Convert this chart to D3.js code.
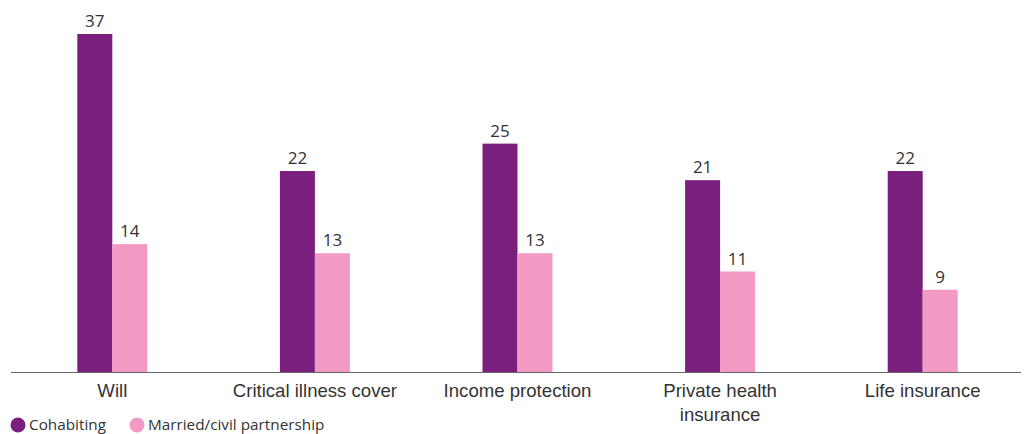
<!DOCTYPE html>
<html>
<head>
<meta charset="utf-8">
<script src="https://cdn.jsdelivr.net/npm/d3@7"></script>
<style>
  html, body { margin: 0; padding: 0; background: #fff; }
  svg { display: block; font-family: "Open Sans", "Noto Sans", sans-serif; }
</style>
</head>
<body>
<svg id="chart" width="1027" height="434"></svg>
<script>
const categories = ["Will", "Critical illness cover", "Income protection", "Private health\ninsurance", "Life insurance"];
const seriesNames = ["Cohabiting", "Married/civil partnership"];
const cohabiting = [37, 22, 25, 21, 22];
const married = [14, 13, 13, 11, 9];
const colors = ["#7b1f7f", "#f29ac4"];

const svg = d3.select("#chart");
const baseline = 372;

const x = d3.scaleBand().domain(categories).range([11, 1024]).paddingInner(0).paddingOuter(0);
const y = d3.scaleLinear().domain([0, 37]).range([baseline, 34]);
const barW = 35;

const rows = categories.map((c, i) => ({ cat: c, vals: [cohabiting[i], married[i]] }));

const groups = svg.selectAll("g.grp").data(rows).join("g")
  .attr("class", "grp")
  .attr("transform", d => `translate(${x(d.cat) + x.bandwidth() / 2},0)`);

groups.selectAll("rect").data(d => d.vals).join("rect")
  .attr("x", (d, j) => j === 0 ? -barW : 0)
  .attr("y", d => y(d))
  .attr("width", barW)
  .attr("height", d => baseline - y(d))
  .attr("fill", (d, j) => colors[j]);

groups.selectAll("text.val").data(d => d.vals).join("text")
  .attr("class", "val")
  .attr("x", (d, j) => j === 0 ? -barW / 2 : barW / 2)
  .attr("y", d => y(d) - 7)
  .attr("text-anchor", "middle")
  .attr("font-size", 17)
  .attr("fill", "#333")
  .text(d => d);

// category axis
const axis = svg.append("g").attr("transform", `translate(0,${baseline})`)
  .call(d3.axisBottom(x).tickSize(0).tickPadding(0));
axis.select(".domain").attr("stroke", "#666").attr("stroke-width", 1.2).attr("d", "M11,0.5H1021");
axis.selectAll(".tick text").remove();
axis.selectAll(".tick").each(function(d) {
  const lines = d.split("\n");
  const t = d3.select(this).append("text")
    .attr("text-anchor", "middle")
    .attr("font-size", 18.6)
    .attr("fill", "#333");
  lines.forEach((ln, k) => {
    t.append("tspan").attr("x", 0).attr("y", 25 + k * 24).text(ln);
  });
});

// legend
const legendPos = [{ cx: 18, tx: 29 }, { cx: 137, tx: 148 }];
const legend = svg.append("g");
seriesNames.forEach((name, i) => {
  legend.append("circle").attr("cx", legendPos[i].cx).attr("cy", 425).attr("r", 7.5).attr("fill", colors[i]);
  legend.append("text").attr("x", legendPos[i].tx).attr("y", 430)
    .attr("font-size", 15.3).attr("fill", "#333").text(name);
});
</script>
</body>
</html>
